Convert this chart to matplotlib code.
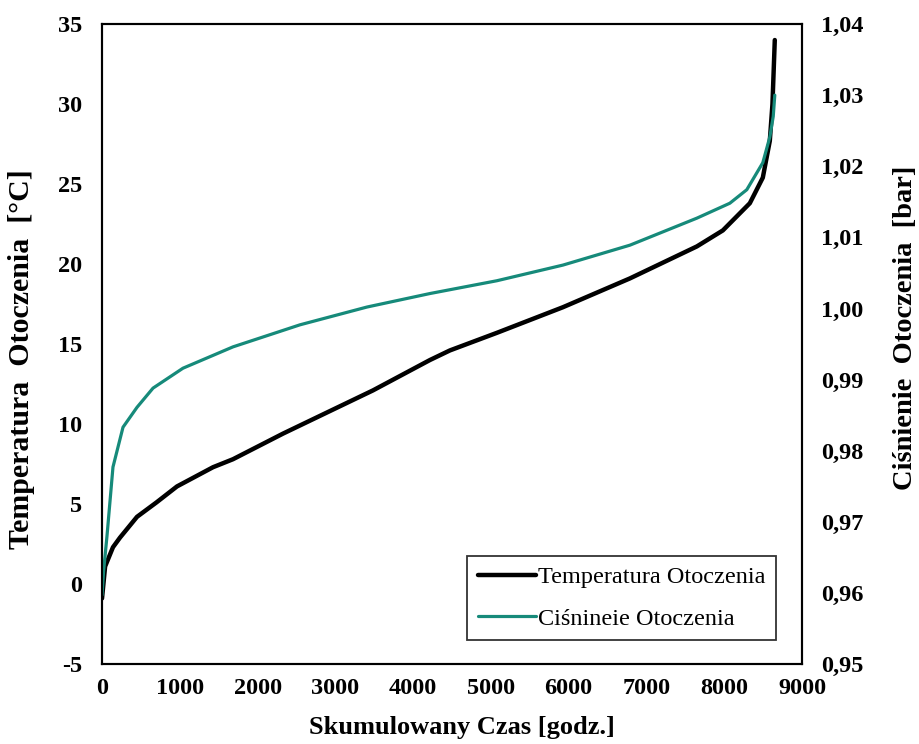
import numpy as np
import matplotlib.pyplot as plt
from matplotlib.ticker import FuncFormatter

# cumulative hours, ambient temperature [C]
czas_t = [0, 40, 141, 231, 450, 700, 964, 1427, 1684, 2327, 2969, 3483, 4216, 4473,
          5077, 5926, 6787, 7648, 7982, 8329, 8496, 8586, 8620, 8650]
temp = [-0.9, 1.1, 2.3, 2.9, 4.2, 5.1, 6.1, 7.3, 7.8, 9.4, 10.9, 12.1, 14.0, 14.6,
        15.7, 17.3, 19.1, 21.1, 22.1, 23.8, 25.4, 27.7, 30.0, 34.0]

# cumulative hours, ambient pressure [bar]
czas_p = [0, 20, 64, 141, 270, 450, 656, 1041, 1684, 2545, 3406, 4216, 5077,
          5926, 6787, 7648, 8072, 8290, 8496, 8586, 8630, 8650]
cisn = [0.9597, 0.9630, 0.9680, 0.9777, 0.9833, 0.9861, 0.9888, 0.9916, 0.9946,
        0.9977, 1.0002, 1.0021, 1.0039, 1.0061, 1.0089, 1.0127, 1.0148, 1.0167,
        1.0205, 1.0241, 1.0270, 1.0300]

plt.rcParams['font.family'] = ['Liberation Serif', 'DejaVu Serif']
plt.rcParams['axes.unicode_minus'] = False

fig = plt.figure(figsize=(9.19, 7.44), dpi=100)
ax = fig.add_axes([0.111, 0.1075, 0.7617, 0.8602])
ax2 = ax.twinx()

l1, = ax.plot(czas_t, temp, color='black', lw=3.2, solid_capstyle='round',
              solid_joinstyle='round', label='Temperatura Otoczenia', zorder=3)
l2, = ax2.plot(czas_p, cisn, color='#168a7a', lw=2.3, solid_capstyle='round',
               solid_joinstyle='round', label='Ciśnineie Otoczenia')

ax.set_xlim(0, 9000)
ax.set_ylim(-5, 35)
ax2.set_ylim(0.95, 1.04)
ax.set_xticks(np.arange(0, 9001, 1000))
ax.set_yticks(np.arange(-5, 36, 5))
ax2.set_yticks(np.arange(0.95, 1.0401, 0.01))
ax2.yaxis.set_major_formatter(FuncFormatter(lambda v, p: f'{v:.2f}'.replace('.', ',')))

for a in (ax, ax2):
    a.tick_params(length=0, labelsize=17.5)
    for lab in a.get_xticklabels() + a.get_yticklabels():
        lab.set_fontweight('bold')
    for s in a.spines.values():
        s.set_linewidth(1.5)
ax.tick_params(axis='x', pad=10)
ax.tick_params(axis='y', pad=14)
ax2.tick_params(axis='y', pad=14)

ax.set_xlabel('Skumulowany Czas [godz.]', fontsize=19, fontweight='bold')
ax.set_ylabel('Temperatura  Otoczenia  [°C]', fontsize=21.5, fontweight='bold')
ax2.set_ylabel('Ciśnienie  Otoczenia  [bar]', fontsize=20.5, fontweight='bold')
ax.xaxis.set_label_coords(0.514, -0.082)
ax.yaxis.set_label_coords(-0.096, 0.477)
ax2.yaxis.set_label_coords(1.13, 0.525)

leg = ax2.legend(handles=[l1, l2], loc='lower right',
                 bbox_to_anchor=(776 / 919, 1 - 640 / 744), bbox_transform=fig.transFigure,
                 borderaxespad=0, fontsize=17.5, frameon=True, fancybox=False,
                 edgecolor='black', handlelength=2.4, handletextpad=0.1,
                 borderpad=0.42, labelspacing=0.8)
leg.get_frame().set_linewidth(1.3)

fig.savefig('out.png', dpi=100)
